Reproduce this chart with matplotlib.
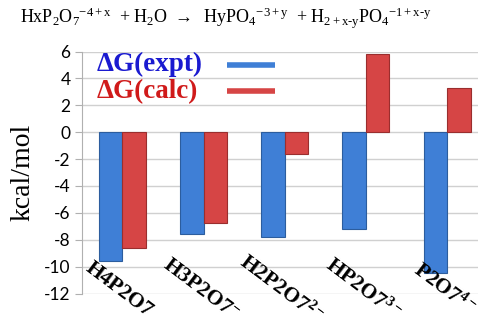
import matplotlib
matplotlib.use("Agg")
from matplotlib import pyplot as plt
import numpy as np

plt.rcParams['mathtext.fontset'] = 'custom'
plt.rcParams['mathtext.rm'] = 'Liberation Serif'
plt.rcParams['mathtext.it'] = 'Liberation Serif'
plt.rcParams['mathtext.bf'] = 'Liberation Serif:bold'

species = ["H4P2O7", r"H3P2O7$\mathbf{^{-}}$", r"H2P2O7$\mathbf{^{2-}}$",
           r"HP2O7$\mathbf{^{3-}}$", r"P2O7$\mathbf{^{4-}}$"]
dg_expt = [-9.55, -7.6, -7.8, -7.2, -10.5]
dg_calc = [-8.65, -6.75, -1.6, 5.85, 3.3]
yticks = list(range(-12, 7, 2))

fig = plt.figure(figsize=(4.78, 3.2), dpi=100)
ax = fig.add_axes([81.7 / 478, 1 - 293.5 / 320, 406 / 478, 242 / 320])

x = np.arange(len(species))
w = 0.29
ax.bar(x - w / 2, dg_expt, w, color='#3f7fd6', edgecolor='#2c5d9e', linewidth=0.8, zorder=3)
ax.bar(x + w / 2, dg_calc, w, color='#d64545', edgecolor='#9a2e2e', linewidth=0.8, zorder=3)

ax.set_xlim(-0.5, 4.5)
ax.set_ylim(-12, 6)
ax.set_yticks(yticks)
ax.set_yticklabels([str(t) for t in yticks], fontsize=12.5, family='Lato')
ax.yaxis.grid(True, color='#d0d0d0', linewidth=1)
ax.set_axisbelow(True)
ax.set_xticks([])
for s in ['top', 'right', 'bottom']:
    ax.spines[s].set_visible(False)
ax.spines['left'].set_color('#b0b0b0')
ax.tick_params(axis='y', color='#b0b0b0', length=5, pad=3)

for xi, name in zip(x, species):
    ax.text(xi - 0.04, -11.7, name, rotation=-37, rotation_mode='anchor',
            ha='center', va='center', fontsize=15.5, fontweight='bold',
            family='Liberation Serif', zorder=5)

fig.text(23 / 478, 1 - 172 / 320, 'kcal/mol', rotation=90, ha='center', va='center',
         fontsize=20, family='Liberation Serif')

title = (r"HxP$_{2}$O$_{7}$$^{-4+x}$  + H$_{2}$O $\rightarrow$  HyPO$_{4}$$^{-3+y}$"
         r"  + H$_{2+x\text{-}y}$PO$_{4}$$^{-1+x\text{-}y}$")
fig.text(20 / 478, 1 - 18 / 320, title, ha='left', va='center', fontsize=13,
         family='Liberation Serif')

# legend drawn by hand
ax.text(0.037, 0.946, 'ΔG(expt)', transform=ax.transAxes, color='#1a1ad0',
        fontsize=19.5, fontweight='bold', family='Liberation Serif', va='center')
ax.text(0.037, 0.836, 'ΔG(calc)', transform=ax.transAxes, color='#d01a1a',
        fontsize=19.5, fontweight='bold', family='Liberation Serif', va='center')
ax.plot([0.358, 0.477], [0.946, 0.946], transform=ax.transAxes, color='#3f7fd6',
        linewidth=4, solid_capstyle='butt', zorder=4)
ax.plot([0.358, 0.477], [0.836, 0.836], transform=ax.transAxes, color='#d64545',
        linewidth=4, solid_capstyle='butt', zorder=4)

fig.savefig('out.png', dpi=100)
